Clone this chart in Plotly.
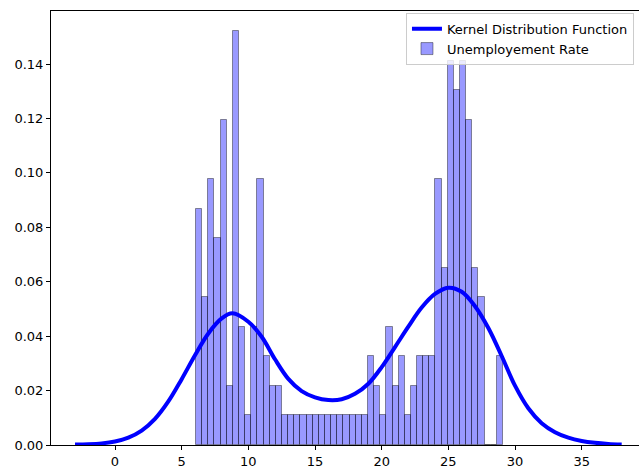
import plotly.graph_objects as go

# ---- data ----
bin_start = 6.08
bin_width = 0.4604
n_total = 200
bin_counts = [8, 5, 9, 7, 11, 2, 14, 4, 1, 4, 9, 3, 2, 2,
              1, 1, 1, 1, 1, 1, 1, 1, 1, 1, 1, 1, 1, 1,
              3, 2, 1, 4, 2, 3, 1, 2, 3, 3, 3, 9, 6, 13, 12, 13, 11, 6, 5, 0, 0, 3]

kde_x = [-3, -2, -1, 0, 1, 2, 3, 4, 5, 6, 7, 8, 8.8, 10, 11, 12, 13, 14, 15, 16, 17,
         18, 19, 20, 21, 22, 23, 24, 25, 26, 27, 28, 29, 30, 31, 32, 33, 34, 35, 36, 37, 38]
kde_y = [0.0002, 0.0003, 0.0006, 0.0013, 0.0027, 0.0053, 0.0096, 0.0160, 0.0242, 0.0330,
         0.0410, 0.0465, 0.0484, 0.0453, 0.0398, 0.0315, 0.0243, 0.0198, 0.0175, 0.0165,
         0.0168, 0.0188, 0.0225, 0.0286, 0.0360, 0.0435, 0.0505, 0.0555, 0.0578, 0.0563,
         0.0510, 0.0430, 0.0327, 0.0218, 0.0135, 0.0080, 0.0047, 0.0027, 0.0015, 0.0008,
         0.0004, 0.0002]

x_ticks = [0, 5, 10, 15, 20, 25, 30, 35]
y_ticks = [0.00, 0.02, 0.04, 0.06, 0.08, 0.10, 0.12, 0.14]

bin_left = [bin_start + i * bin_width for i in range(len(bin_counts))]
density = [c / (n_total * bin_width) for c in bin_counts]

fig = go.Figure()
fig.add_trace(go.Bar(
    x=bin_left, y=density, width=bin_width, offset=0,
    name="Unemployement Rate", legendrank=2,
    marker=dict(color="rgba(0,0,255,0.4)", line=dict(color="rgba(0,0,0,0.4)", width=1)),
))
fig.add_trace(go.Scatter(
    x=kde_x, y=kde_y, mode="lines", line=dict(color="#0000ff", width=4, shape="spline"),
    name="Kernel Distribution Function", legendrank=1,
))

font = dict(family="DejaVu Sans", size=13, color="black")
fig.update_layout(
    width=639, height=468,
    margin=dict(l=51, r=0, t=11, b=23, autoexpand=False),
    paper_bgcolor="white", plot_bgcolor="white",
    font=font, bargap=0,
    showlegend=True,
    legend=dict(x=0.6037, xanchor="left", y=0.996, yanchor="top",
                bgcolor="rgba(255,255,255,0.8)", bordercolor="#cccccc", borderwidth=1,
                font=dict(family="DejaVu Sans", size=13, color="black"),
                tracegroupgap=0, itemwidth=30),
)
fig.update_xaxes(range=[-4.8, 39.3], tickvals=x_ticks, ticktext=[str(v) for v in x_ticks],
                 showgrid=False, zeroline=False, showline=True, linecolor="black", linewidth=1,
                 mirror=True, ticks="outside", ticklen=4, tickcolor="black", automargin=False)
fig.update_yaxes(range=[0, 0.1595], tickvals=y_ticks, ticktext=["%.2f" % v for v in y_ticks],
                 showgrid=False, zeroline=False, showline=True, linecolor="black", linewidth=1,
                 ticks="outside", ticklen=4, tickcolor="black", automargin=False)

fig.write_html("out.html", config={"displayModeBar": False},
               post_script="document.body.style.margin='0';document.body.style.overflow='hidden';")
